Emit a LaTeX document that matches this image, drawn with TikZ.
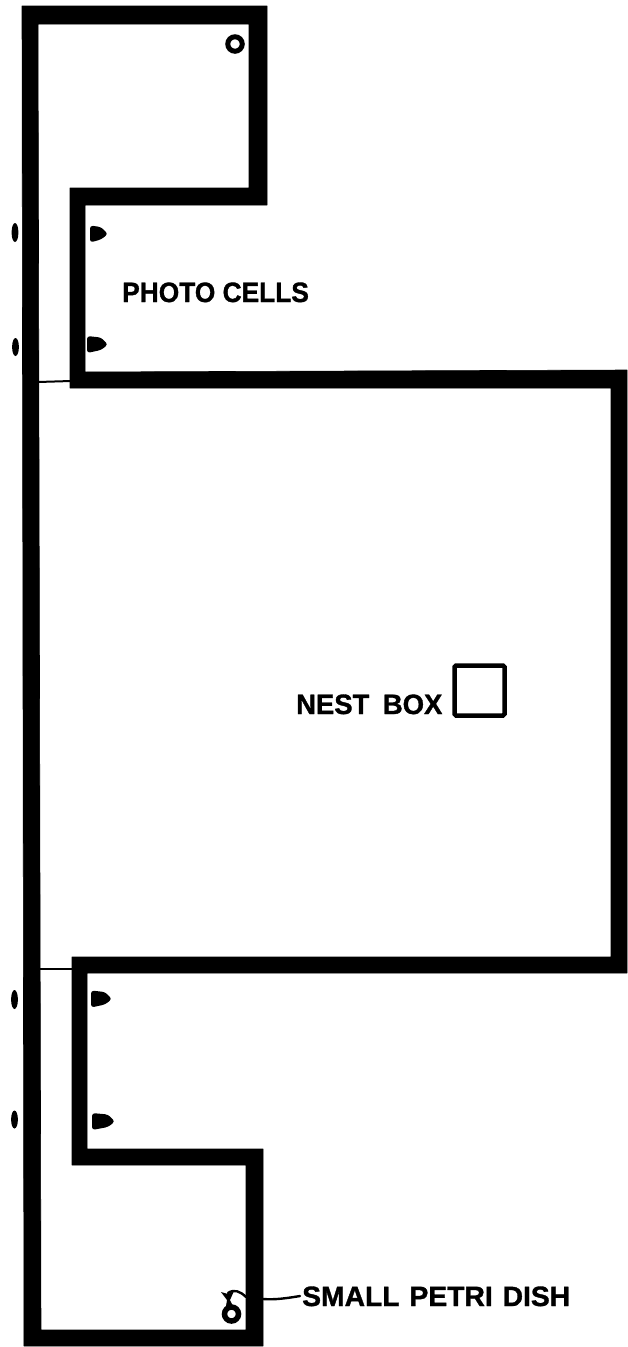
\documentclass[tikz,border=0pt]{standalone}
\usepackage{fontspec}
\setmainfont[BoldFeatures={FakeBold=1.2}]{Liberation Sans}
\newcommand{\photocell}[3]{% x-left, y-centre, length
  \fill[inkfill,rounded corners=3pt] (#1,#2-8.5) -- (#1+#3-7,#2-7) -- (#1+#3,#2) -- (#1+#3-7,#2+5.5) -- (#1,#2+8.5) -- cycle;}
\newcommand{\slit}[3]{% x, y, half height
  \fill[inkfill] (#1,#2) ellipse [x radius=3.4,y radius=#3];}
\tikzset{
  x=1pt,y=-1pt,
  inkfill/.style={fill=black,draw=none},
  wall/.style={fill=black,even odd rule,draw=black,line width=0.6pt,line join=round},
  thinrule/.style={draw=black,line width=2pt},
  leader/.style={draw=black,line width=2.4pt,line cap=round},
  caption/.style={font=\bfseries\fontsize{28}{28}\selectfont,inner sep=0pt,anchor=base west,text=black},
}
\begin{document}
\begin{tikzpicture}
\useasboundingbox (0,0) rectangle (627,1347);
\fill[white] (0,0) rectangle (627,1347);
% walls
\path[wall]
  (22,6) -- (267,6) -- (267,205) -- (85,205) -- (85,372) -- (627,370) -- (627,973) -- (87,973) -- (87,1149) -- (263,1149) -- (263,1346) -- (24,1346) -- cycle
  (38,24) -- (249,24) -- (249,188) -- (70,188) -- (70,388) -- (611,388) -- (611,957) -- (72,957) -- (72,1165) -- (246,1165) -- (246,1330) -- (41,1330) -- cycle;
% thin doors
\coordinate (doorAl) at (38,382); \coordinate (doorAr) at (71,381);
\coordinate (doorBl) at (40,969); \coordinate (doorBr) at (72,969);
\draw[thinrule] (doorAl) -- (doorAr);
\draw[thinrule] (doorBl) -- (doorBr);
% photo cells
\photocell{90}{234}{18}
\photocell{87}{344.5}{21}
\photocell{91}{999}{21}
\photocell{92}{1121.5}{23}
\slit{15}{232.5}{9.5}
\slit{15.5}{347}{9}
\slit{14.5}{999.5}{9.5}
\slit{14.5}{1119.5}{9}
% dishes
\node[circle,draw=black,line width=5pt,minimum size=14.5pt,inner sep=0pt] (dishA) at (235,44) {};
\node[circle,draw=black,line width=5.5pt,minimum size=14pt,inner sep=0pt] (dishB) at (231.5,1314) {};
\fill[inkfill] (221,1292) -- (228,1294) -- (234,1291) -- (230,1300) -- (233,1306) -- (226,1306) -- (227,1300) -- cycle;
% nest box
\node[draw=black,line width=4.5pt,rounded corners=1.5pt,minimum width=50pt,minimum height=50pt,inner sep=0pt] (nest) at (479.5,690.5) {};
% labels
\node[caption] (photo) at (122,302) {\scalebox{0.94}[1]{PHOTO CELLS}};
\node[caption] (nestlab) at (296,714) {\scalebox{0.98}[1]{NEST\hspace{6pt} BOX}};
\node[caption] (petri) at (302,1306) {\scalebox{1.01}[1]{SMALL\hspace{2pt} PETRI\hspace{2pt} DISH}};
% leaders
\coordinate (wallout) at (263,1299);
\coordinate (wallin) at (246,1297);
\coordinate (bow) at (228,1293);
\draw[leader] (wallout) .. controls (275,1300) and (288,1298) .. (300,1296);
\draw[leader] (bow) .. controls (234,1289) and (240,1291) .. (wallin);
\end{tikzpicture}
\end{document}
